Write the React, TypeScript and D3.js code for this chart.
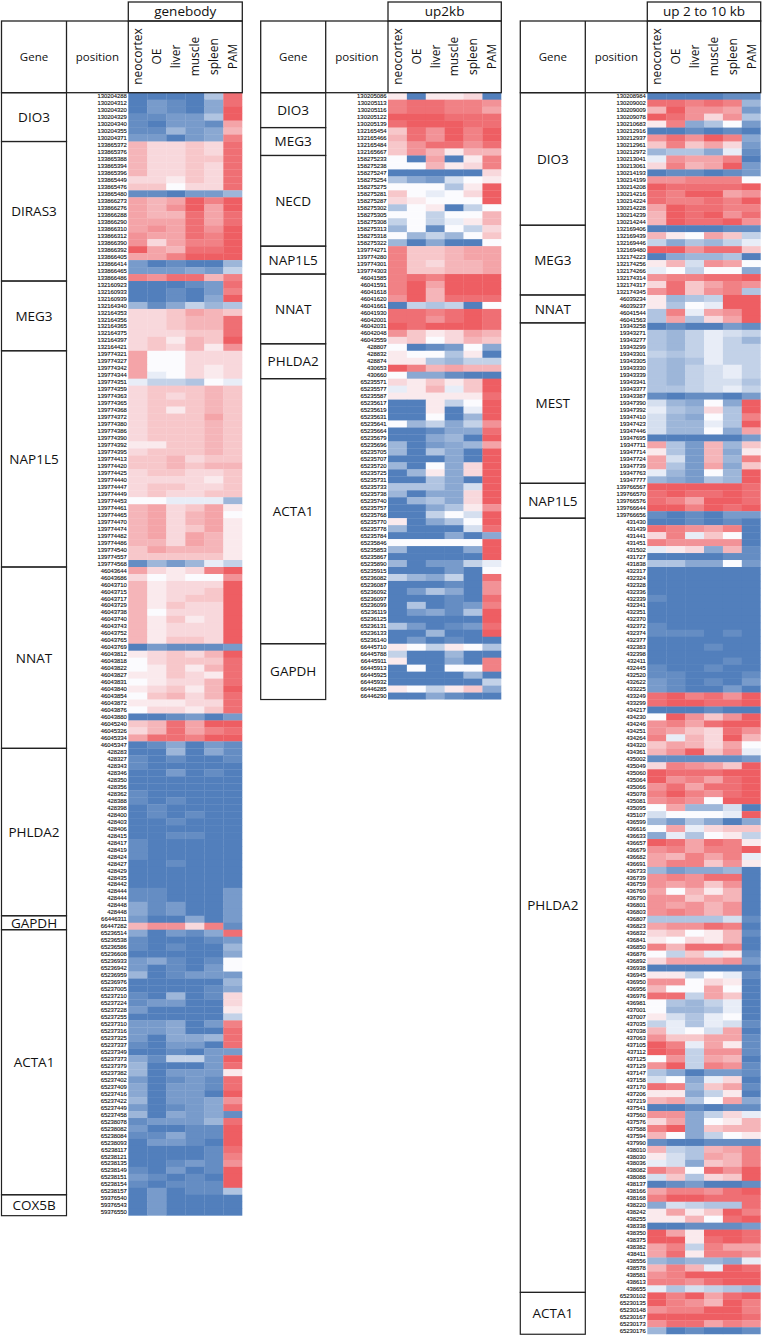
import React from "react";
import * as d3 from "d3";

const tissues = ["neocortex", "OE", "liver", "muscle", "spleen", "PAM"];

// ---------- genebody ----------
const genebodyGenes: [string, number][] = [["DIO3", 7], ["DIRAS3", 20], ["MEG3", 10], ["NAP1L5", 31], ["NNAT", 26], ["PHLDA2", 24], ["GAPDH", 2], ["ACTA1", 38], ["COX5B", 3]];
const genebodyPositions = [
  130204288, 130204312, 130204320, 130204329, 130204340, 130204355, 130204371,
  133865372, 133865376, 133865388, 133865394, 133865396, 133865449, 133865476, 133865480, 133866273, 133866276, 133866288, 133866290, 133866310, 133866312, 133866390, 133866392, 133866405, 133866414, 133866465, 133866486,
  132160923, 132160933, 132160939, 132164340, 132164353, 132164356, 132164365, 132164375, 132164397, 132164421,
  139774321, 139774327, 139774342, 139774344, 139774351, 139774359, 139774363, 139774365, 139774368, 139774372, 139774380, 139774386, 139774390, 139774392, 139774395, 139774413, 139774420, 139774425, 139774440, 139774447, 139774449, 139774453, 139774461, 139774465, 139774470, 139774474, 139774482, 139774486, 139774540, 139774557, 139774568,
  46043644, 46043686, 46043710, 46043715, 46043717, 46043729, 46043738, 46043740, 46043743, 46043752, 46043765, 46043769, 46043812, 46043818, 46043822, 46043827, 46043831, 46043840, 46043854, 46043872, 46043876, 46043880, 46045240, 46045326, 46045334, 46045347,
  428283, 428327, 428343, 428346, 428350, 428356, 428362, 428388, 428398, 428400, 428403, 428406, 428415, 428417, 428419, 428424, 428427, 428429, 428435, 428442, 428444, 428444, 428448, 428448,
  66446311, 66447282,
  65236514, 65236538, 65236586, 65236608, 65236933, 65236942, 65236959, 65236976, 65237005, 65237210, 65237224, 65237228, 65237255, 65237310, 65237316, 65237325, 65237337, 65237349, 65237373, 65237379, 65237382, 65237402, 65237409, 65237416, 65237422, 65237449, 65237458, 65238078, 65238082, 65238084, 65238093, 65238117, 65238121, 65238135, 65238149, 65238151, 65238154, 65238157,
  59376540, 59376543, 59376550,
];
const genebodyValues = [
  [-9,-9,-9,-9,-4,8],[-9,-7,-8,-9,-6,8],[-9,-7,-8,-9,-6,9],[-8,-8,-7,-7,-4,9],[-8,-9,-7,-7,-8,5],[-8,-8,-5,-7,-6,4],[-7,-7,-9,-7,-6,7],
  [4,2,2,3,2,8],[4,2,2,3,2,8],[4,2,2,3,3,8],[4,2,2,3,2,8],[4,2,2,3,2,8],[2,2,1,3,2,8],[3,3,0,2,2,8],[-8,-8,-9,-7,-7,-5],[5,4,5,9,7,9],[5,4,6,9,5,9],[5,4,4,8,5,8],[5,5,5,8,5,8],[5,6,5,8,6,9],[6,5,5,8,7,9],[6,2,5,7,7,9],[9,5,4,8,8,9],[5,5,7,9,9,9],[-7,-9,-8,-9,-9,-5],[-7,-7,-7,-6,-7,-3],[7,6,8,8,4,7],
  [-9,-9,-9,-8,-7,8],[-9,-9,-8,-9,-7,7],[-9,-9,-8,-9,-6,9],[-5,-8,-6,-3,-5,-4],[2,2,3,5,4,3],[2,2,3,4,4,8],[2,2,3,4,4,8],[2,2,2,3,3,8],[2,3,1,4,3,9],[2,3,2,4,1,6],
  [5,0,0,2,2,2],[5,0,0,2,2,2],[5,0,0,2,1,2],[5,-1,0,2,1,2],[-1,-3,-3,-4,0,-1],[2,3,3,3,4,3],[2,3,2,3,4,3],[2,3,3,3,4,3],[2,3,1,3,4,3],[2,3,3,3,5,3],[2,3,3,3,4,3],[2,3,3,3,4,3],[2,3,3,3,4,3],[1,1,3,3,4,3],[2,3,3,3,4,3],[3,3,4,2,3,3],[3,3,4,3,4,4],[2,3,3,2,2,3],[2,2,2,2,1,3],[2,3,3,2,2,3],[2,3,2,2,3,3],[0,0,-1,-1,-1,-5],[4,5,2,3,5,1],[4,5,2,4,5,0],[4,5,2,4,5,1],[4,5,2,3,5,1],[4,5,2,5,4,1],[4,4,2,5,4,1],[3,5,4,4,4,1],[3,3,3,3,3,1],[-8,-5,-7,-5,-1,-3],
  [5,2,1,2,7,9],[2,0,1,0,0,6],[4,1,2,2,2,9],[4,1,2,2,3,9],[4,1,2,3,3,9],[4,1,3,2,2,9],[4,0,2,2,2,9],[4,1,3,1,2,9],[4,1,2,2,2,9],[4,1,2,2,2,9],[4,1,3,3,2,9],[-9,-7,-8,-8,-8,-7],[1,2,3,2,4,9],[0,2,3,3,3,8],[0,1,3,1,4,8],[1,1,3,2,1,8],[0,1,2,2,4,8],[1,2,3,1,4,9],[0,3,4,2,4,8],[1,1,1,2,2,8],[0,2,2,1,3,8],[-9,-9,-8,-7,-9,-7],[3,4,8,5,9,9],[2,4,8,5,7,8],[5,8,8,7,9,9],[-9,-8,-6,-9,-7,-8],
  [-9,-9,-5,-9,-6,-8],[-8,-9,-8,-9,-9,-8],[-8,-9,-9,-9,-9,-9],[-9,-9,-7,-9,-8,-9],[-9,-9,-9,-9,-9,-9],[-9,-9,-9,-9,-9,-9],[-8,-9,-9,-9,-9,-9],[-8,-9,-8,-9,-9,-9],[-9,-8,-9,-9,-9,-9],[-9,-8,-9,-8,-9,-9],[-9,-9,-8,-9,-9,-9],[-9,-9,-9,-9,-9,-9],[-9,-9,-8,-8,-9,-9],[-8,-9,-9,-9,-9,-9],[-8,-9,-9,-9,-9,-9],[-8,-9,-9,-9,-9,-9],[-9,-9,-8,-9,-9,-9],[-9,-9,-9,-9,-9,-9],[-9,-9,-9,-9,-9,-9],[-9,-9,-9,-9,-9,-9],[-8,-8,-9,-9,-9,-7],[-8,-8,-9,-9,-9,-7],[-6,-8,-7,-9,-9,-7],[-6,-8,-7,-9,-9,-7],
  [-7,-9,-9,-6,-9,-7],[4,6,6,2,7,-8],
  [-6,-9,-7,-8,-6,8],[-8,-9,-9,-9,-8,-7],[-8,-9,-8,-9,-9,-5],[-9,-9,-9,-9,-9,-6],[-7,-6,-8,-9,-8,0],[-7,-9,-8,-9,-7,0],[-5,-9,-8,-7,-7,-7],[-9,-9,-9,-9,-9,-5],[-9,-9,-9,-9,-8,-6],[-8,-9,-5,-9,-8,2],[-8,-7,-7,-9,-9,2],[-7,-9,-9,-9,-9,1],[-9,-9,-9,-9,-9,-3],[-7,-7,-6,-9,-7,7],[-7,-7,-6,-9,-9,8],[-7,-9,-6,-6,-5,8],[-8,-9,-7,-7,-9,8],[-9,-9,-8,-9,-7,-7],[-6,-8,-3,-3,-7,9],[-5,-9,-9,-9,-7,8],[-5,-9,-7,-7,-7,1],[-7,-9,-8,-7,-8,8],[-6,-9,-7,-7,-8,8],[-6,-9,-7,-7,-9,9],[-5,-9,-7,-7,-6,6],[-7,-9,-8,-7,-6,8],[-5,-9,-6,-7,-6,-8],[-8,-7,-7,-7,-5,8],[-7,-9,-9,-8,-8,9],[-8,-8,-6,-8,-8,9],[-9,-7,-7,-8,-9,9],[-9,-9,-9,-9,-8,8],[-9,-9,-9,-9,-8,7],[-9,-9,-8,-7,-8,6],[-8,-9,-7,-9,-8,9],[-7,-8,-9,-8,-9,9],[-8,-9,-8,-8,-8,9],[-9,-7,-9,-8,-8,-4],
  [-9,-7,-9,-9,-9,-9],[-9,-7,-9,-9,-9,-9],[-9,-7,-9,-9,-9,-9],
];

// ---------- up2kb ----------
const up2kbGenes: [string, number][] = [["DIO3", 5], ["MEG3", 4], ["NECD", 13], ["NAP1L5", 4], ["NNAT", 10], ["PHLDA2", 5], ["ACTA1", 38], ["GAPDH", 8]];
const up2kbPositions = [
  130205086, 130205113, 130205116, 130205122, 130205139,
  132165454, 132165466, 132165484, 132165667,
  158275233, 158275238, 158275247, 158275254, 158275275, 158275281, 158275287, 158275302, 158275305, 158275308, 158275313, 158275318, 158275322,
  139774271, 139774280, 139774301, 139774303,
  46041585, 46041591, 46041618, 46041620, 46041661, 46041930, 46042001, 46042031, 46042048, 46043559,
  428807, 428832, 428874, 430653, 430660,
  65235571, 65235577, 65235587, 65235617, 65235619, 65235631, 65235641, 65235664, 65235679, 65235696, 65235705, 65235707, 65235720, 65235725, 65235731, 65235733, 65235738, 65235740, 65235757, 65235768, 65235770, 65235778, 65235784, 65235846, 65235853, 65235867, 65235890, 65235915, 65236082, 65236087, 65236092, 65236097, 65236099, 65236119, 65236125, 65236131, 65236133, 65236140,
  66445710, 66445788, 66445911, 66445913, 66445925, 66445932, 66446285, 66446290,
];
const up2kbValues = [
  [1,-9,1,1,2,-9],[7,8,8,7,7,6],[7,8,8,7,7,5],[9,9,9,8,8,8],[8,9,9,9,8,8],
  [3,8,6,9,7,9],[4,8,6,9,7,9],[3,6,8,8,6,8],[3,6,4,1,4,4],
  [0,-9,5,-9,1,7],[0,0,4,1,2,7],[-9,-9,-9,-9,-9,2],[-4,-6,-7,-2,0,1],[0,0,0,-4,1,9],[3,0,-1,0,2,9],[2,1,0,0,0,9],[-4,0,1,-9,-3,0],[0,0,-3,0,0,4],[-3,0,-3,-1,1,4],[-5,0,-8,0,-3,2],[0,-5,-3,-5,0,3],[-5,-9,-6,-9,-9,0],
  [7,3,3,4,5,5],[7,3,3,4,5,5],[7,3,2,4,4,5],[7,3,3,4,4,5],
  [7,8,7,9,9,9],[7,9,5,9,9,9],[7,9,4,9,9,9],[6,9,4,8,8,8],[-9,-3,-4,-3,-9,0],[8,8,7,8,9,8],[8,8,6,8,9,8],[9,8,9,9,9,8],[6,3,1,2,5,4],[2,3,0,2,4,3],
  [0,-9,-8,-7,0,-6],[1,0,0,-4,1,-9],[1,1,-4,-5,-3,-3],[9,7,4,5,4,4],[0,-6,-6,-8,-9,-9],
  [2,1,3,1,3,9],[-1,1,4,-1,3,9],[1,1,1,1,1,8],[-9,-9,1,-3,0,9],[-9,-9,1,-9,-1,9],[-9,-9,0,-9,-5,9],[0,-5,-3,-6,-3,6],[-9,-9,-8,-6,-6,8],[-9,-9,-6,-5,-9,9],[-5,-9,-7,-6,-5,5],[-5,-9,-4,-6,-9,9],[-9,-9,-9,-6,-9,9],[-5,-9,0,-6,2,9],[-9,-5,1,-6,2,9],[-9,-9,-4,-6,-9,9],[-4,-4,-4,-6,-2,9],[-5,-9,-6,-6,2,9],[-9,-5,-4,-6,2,9],[-9,-9,-6,-4,1,6],[-9,-9,-3,0,-2,9],[1,-9,-6,-4,0,9],[-5,-9,-9,-9,-2,8],[-9,-9,-9,-6,-9,-6],[0,0,0,0,0,9],[-5,-9,-9,-9,-6,9],[-9,-9,-9,-9,-9,9],[-5,-9,-7,-7,-3,-1],[-9,-9,-9,-7,-9,0],[-3,-5,-6,-3,-9,8],[-9,-9,-9,-8,-9,6],[-9,-7,-4,-6,-9,6],[-9,-9,-9,-8,-9,8],[-9,-4,-9,-8,-7,7],[-9,-7,-6,-8,-4,9],[-9,-9,-9,-9,-9,9],[-4,-7,-9,-8,-7,8],[-9,-9,-5,-9,-9,9],[-9,-7,-9,-8,-9,-9],
  [1,0,-3,1,0,-4],[-3,-9,-9,-5,-9,-9],[1,-9,-9,-6,-9,7],[-9,0,-9,0,0,7],[-9,-9,-9,-9,-5,-9],[-9,-9,-9,-9,-9,-3],[1,0,-3,1,3,-6],[-9,-9,-6,-8,-9,-9],
];

// ---------- up 2 to 10 kb ----------
const up10kbGenes: [string, number][] = [["DIO3", 19], ["MEG3", 10], ["NNAT", 4], ["MEST", 23], ["NAP1L5", 5], ["PHLDA2", 111], ["ACTA1", 6]];
const up10kbPositions = [
  130208984, 130209002, 130209009, 130209078, 130210683, 130212916, 130212937, 130212961, 130212972, 130213041, 130213061, 130214193, 130214199, 130214208, 130214216, 130214224, 130214228, 130214239, 130214244,
  132169406, 132169439, 132169446, 132169480, 132174223, 132174256, 132174266, 132174314, 132174317, 132174345,
  46039234, 46039237, 46041544, 46041563,
  19343258, 19343271, 19343277, 19343299, 19343301, 19343305, 19343330, 19343339, 19343341, 19343377, 19343387, 19347390, 19347392, 19347410, 19347423, 19347446, 19347695, 19347711, 19347714, 19347724, 19347739, 19347763, 19347777,
  139766567, 139766570, 139766576, 139766644, 139766656,
  431430, 431439, 431441, 431451, 431502, 431727, 431838,
  432317, 432324, 432328, 432336, 432339, 432341, 432351, 432370, 432372, 432374, 432377, 432383, 432398, 432411, 432445, 432520, 432622,
  433225, 433249, 433299,
  434217, 434230, 434246, 434251, 434264, 434320, 434361,
  435002, 435049, 435060, 435064, 435066, 435078, 435081, 435095, 435107,
  436599, 436616, 436633, 436657, 436679, 436682, 436691, 436733, 436739, 436759, 436769, 436790, 436801, 436803, 436807, 436823, 436832, 436841, 436850, 436876, 436892, 436938, 436945, 436950, 436956, 436976, 436981,
  437001, 437007, 437035, 437038, 437063, 437105, 437112, 437125, 437129, 437147, 437158, 437170, 437206, 437219, 437541, 437560, 437576, 437588, 437594, 437990,
  438010, 438030, 438036, 438082, 438088, 438137, 438166, 438168, 438220, 438242, 438255, 438338, 438350, 438375, 438382, 438411, 438556, 438578, 438581, 438613, 438655,
  65230102, 65230135, 65230148, 65230167, 65230173, 65230176,
];
const up10kbValues = [
  [-9,-9,-9,-9,-8,-8],[8,8,7,8,7,-5],[4,9,6,6,5,-7],[9,8,6,2,6,-4],[1,7,-6,-4,0,-7],[-9,-9,-8,-9,-8,-9],[6,8,6,9,7,-6],[3,7,3,5,2,-7],[-5,-4,-4,-6,-1,-8],[-1,6,5,5,7,-9],[2,7,4,5,9,-7],[-9,-8,-8,-9,-8,-7],[6,6,7,7,7,0],[9,8,8,8,8,9],[8,7,9,9,5,6],[8,7,7,8,7,9],[5,9,8,8,7,7],[4,9,8,9,6,8],[4,9,8,8,9,6],
  [-9,-9,-9,-9,-8,-8],[4,1,0,5,3,-3],[-3,-6,-4,-5,-3,-1],[9,9,6,8,8,3],[-9,-6,-5,-5,-4,-9],[1,4,-2,6,5,0],[-1,0,-3,0,0,-6],[6,7,7,8,8,9],[2,8,3,5,7,6],[6,8,3,6,7,-4],
  [1,-5,-4,-3,9,9],[1,-4,0,-1,9,9],[-4,7,-1,5,6,9],[-4,5,-4,2,5,9],
  [-9,-8,-9,-9,-7,-8],[-4,-5,-3,-1,-2,-3],[-4,-5,-3,-1,-3,-5],[-4,-5,-3,-1,-3,-3],[-3,-4,-3,-1,-3,-3],[-4,-5,-4,-1,-3,-3],[-4,-5,-3,-2,-1,-3],[-4,-5,-3,-2,-1,-3],[-4,-5,-3,-2,-2,-4],[-4,-4,-3,-2,-1,-3],[-8,-9,-8,-8,-9,-7],[-2,-5,-6,0,-6,9],[-1,-4,-5,2,-4,9],[-2,-5,-6,0,-4,7],[-2,-5,-5,-1,-4,9],[-2,-5,-5,0,-6,5],[-9,-9,-9,-9,-9,-7],[5,-4,-7,4,-5,3],[1,-4,-7,4,-6,1],[5,-2,-7,4,-5,7],[5,-4,-7,5,-6,3],[-1,-5,-7,0,-5,9],[-5,-6,-7,-4,-5,9],
  [9,9,9,9,9,8],[8,9,8,8,9,8],[8,7,5,9,9,8],[9,9,7,9,8,9],[-8,-9,-8,-9,-7,-7],
  [-9,-9,-8,-9,-8,-9],[8,7,6,5,7,-9],[2,7,-1,3,0,-9],[7,6,6,6,6,-9],[-1,1,2,-6,4,-8],[-9,-9,-9,-9,-8,-8],[-4,-4,-6,-6,0,-7],
  [-9,-9,-9,-9,-9,-9],[-9,-9,-9,-9,-9,-9],[-9,-9,-9,-9,-9,-9],[-9,-9,-9,-9,-9,-9],[-8,-9,-9,-9,-9,-9],[-9,-9,-9,-9,-9,-9],[-9,-9,-9,-9,-9,-9],[-9,-9,-9,-9,-9,-9],[-8,-9,-9,-9,-9,-9],[-8,-8,-8,-9,-8,-9],[-9,-9,-9,-9,-9,-9],[-9,-9,-9,-8,-9,-9],[-9,-9,-9,-9,-9,-9],[-9,-9,-9,-9,-8,-9],[-8,-9,-9,-8,-9,-9],[-8,-8,-9,-9,-9,-8],[-7,-8,-9,-8,-9,-7],
  [-7,-8,-9,-9,-7,-9],[8,9,7,8,6,9],[8,9,9,8,8,9],
  [-9,-9,-9,-8,-9,-9],[0,9,6,3,6,9],[6,7,5,8,9,9],[6,5,3,2,8,6],[7,-1,4,2,9,4],[3,5,4,2,5,0],[4,6,9,3,6,-1],
  [-8,-8,-8,-8,-8,-7],[2,7,6,5,3,9],[9,8,8,8,9,9],[9,6,7,5,8,9],[6,8,5,8,8,9],[7,9,7,6,8,9],[6,7,6,0,9,9],[0,5,-5,-5,-2,-9],[-2,0,0,0,-1,9],
  [-5,-7,-4,-6,-9,-6],[0,5,-1,2,3,3],[-6,-1,-4,0,1,-3],[9,8,5,8,7,1],[6,7,5,7,7,9],[5,4,7,5,7,-1],[5,7,7,3,6,1],[-5,-7,-6,-6,-5,-9],[6,7,6,8,8,-9],[6,5,6,3,6,-9],[5,0,4,1,4,-9],[6,6,3,5,4,-9],[6,5,6,4,6,-9],[6,7,6,4,6,-9],[-4,-4,-4,-4,-2,-8],[5,6,6,8,7,-9],[2,3,0,1,4,-8],[1,0,2,1,4,-9],[7,4,8,8,7,-9],[0,-3,3,-1,1,-8],[2,5,5,5,6,-7],[-9,-9,-9,-9,-9,-9],[1,1,-3,0,-1,-8],[6,6,0,2,1,-9],[4,0,0,5,0,-9],[8,8,-3,5,3,-9],[0,-4,-5,-3,-1,-9],
  [0,-5,-5,-4,-1,-9],[1,-2,-4,-1,0,-9],[-3,-1,-4,-1,-2,-8],[4,-1,0,-2,5,-9],[6,3,3,5,5,-8],[9,7,-1,5,1,-8],[9,8,-3,6,6,-8],[0,6,-3,5,4,-9],[6,9,-3,7,6,-8],[-4,-6,-9,-7,-7,-8],[-2,0,-6,-1,2,-9],[8,7,-5,3,5,-8],[1,1,-6,-3,1,-9],[4,5,-4,0,5,-6],[-9,-9,-8,-9,-8,-8],[6,6,-6,-3,2,-1],[2,5,-6,0,1,4],[7,9,-6,3,4,4],[4,0,-6,-3,0,1],[-8,-9,-9,-8,-8,-8],
  [4,-3,-4,4,5,7],[1,-2,-4,5,4,7],[-1,-2,-6,3,4,7],[7,5,0,8,6,9],[-2,3,-4,2,3,9],[-9,-8,-7,-9,-9,-8],[5,7,7,6,8,9],[7,9,9,8,8,8],[-6,-2,-3,-4,-4,8],[1,5,1,3,9,7],[1,1,4,0,8,9],[-9,-9,-8,-8,-8,-7],[9,5,1,9,9,8],[9,9,1,8,9,8],[5,7,-3,7,5,5],[5,8,1,7,7,6],[-5,-6,-5,-5,-6,-1],[4,7,4,-1,9,8],[6,7,9,9,9,9],[7,7,6,8,9,9],[-1,-4,-2,-3,-4,-5],
  [9,7,9,5,8,9],[9,7,6,4,9,7],[6,7,7,9,9,7],[9,9,9,9,9,8],[6,8,8,5,7,6],[-5,-9,-8,-9,-9,-8],
];

const color = d3.scaleLinear<string>().domain([-9, 0, 9]).range(["#527fbc", "#fbfbfe", "#ee5e63"]);
const FONT = "'Open Sans','Noto Sans',sans-serif";
const INK = "#222";
const TOP = 92.7;
const ROW = 6.975;

type PanelProps = {
  title: string;
  x0: number;
  x1: number;
  x2: number;
  x3: number;
  genes: [string, number][];
  positions: number[];
  values: number[][];
};

function Panel({ title, x0, x1, x2, x3, genes, positions, values }: PanelProps) {
  const bottom = TOP + ROW * positions.length;
  const xBand = d3.scaleBand<string>().domain(tissues).range([x2, x3]);
  const yScale = d3.scaleLinear().domain([0, positions.length]).range([TOP, bottom]);
  let offset = 0;
  const boxes = genes.map(([name, n]) => {
    const b = { name, y0: yScale(offset), y1: yScale(offset + n) };
    offset += n;
    return b;
  });
  return (
    <g>
      {values.map((row, r) =>
        row.map((v, c) => (
          <rect key={r + "-" + c} x={xBand(tissues[c])} y={yScale(r)} width={xBand.bandwidth() + (c < 5 ? 0.3 : 0)} height={ROW + (r < values.length - 1 ? 0.3 : 0)} fill={color(v)} />
        ))
      )}
      {positions.map((p, r) => (
        <text key={r} x={x2 - 1.4} y={yScale(r) + ROW / 2} dy="0.36em" textAnchor="end" fontFamily="'Liberation Sans',sans-serif" fontSize={5.9} fill="#111" stroke="#111" strokeWidth={0.12}>
          {p}
        </text>
      ))}
      <rect x={x2} y={2} width={x3 - x2} height={19} fill="none" stroke={INK} strokeWidth={1.3} />
      <text x={(x2 + x3) / 2} y={11.5} dy="0.36em" textAnchor="middle" fontFamily={FONT} fontSize={13.5} fill="#111">{title}</text>
      <rect x={x0} y={21} width={x3 - x0} height={71.7} fill="none" stroke={INK} strokeWidth={1.3} />
      <line x1={x1} x2={x1} y1={21} y2={92.7} stroke={INK} strokeWidth={1.3} />
      <line x1={x2} x2={x2} y1={21} y2={92.7} stroke={INK} strokeWidth={1.3} />
      <text x={(x0 + x1) / 2} y={57} dy="0.36em" textAnchor="middle" fontFamily={FONT} fontSize={11.5} fill="#111">Gene</text>
      <text x={(x1 + x2) / 2} y={57} dy="0.36em" textAnchor="middle" fontFamily={FONT} fontSize={11.5} fill="#111">position</text>
      {tissues.map((t) => {
        const cx = (xBand(t) as number) + xBand.bandwidth() / 2;
        return (
          <text key={t} transform={`translate(${cx},56.5) rotate(-90)`} dy="0.36em" textAnchor="middle" fontFamily={FONT} fontSize={12} fill="#111">{t}</text>
        );
      })}
      {boxes.map((b) => (
        <g key={b.name}>
          <rect x={x0} y={b.y0} width={x1 - x0} height={b.y1 - b.y0} fill="none" stroke={INK} strokeWidth={1.2} />
          <text x={(x0 + x1) / 2} y={(b.y0 + b.y1) / 2} dy="0.36em" textAnchor="middle" fontFamily={FONT} fontSize={13.5} fill="#111">{b.name}</text>
        </g>
      ))}
    </g>
  );
}

export default function App() {
  return (
    <svg width={763} height={1337} viewBox="0 0 763 1337" style={{ position: "absolute", left: 0, top: 0, background: "#fff" }}>
      <Panel title="genebody" x0={1.5} x1={66.5} x2={128.3} x3={242.3} genes={genebodyGenes} positions={genebodyPositions} values={genebodyValues} />
      <Panel title="up2kb" x0={260.7} x1={325.7} x2={388} x3={501.3} genes={up2kbGenes} positions={up2kbPositions} values={up2kbValues} />
      <Panel title="up 2 to 10 kb" x0={520.3} x1={585.3} x2={647.3} x3={760.7} genes={up10kbGenes} positions={up10kbPositions} values={up10kbValues} />
    </svg>
  );
}
